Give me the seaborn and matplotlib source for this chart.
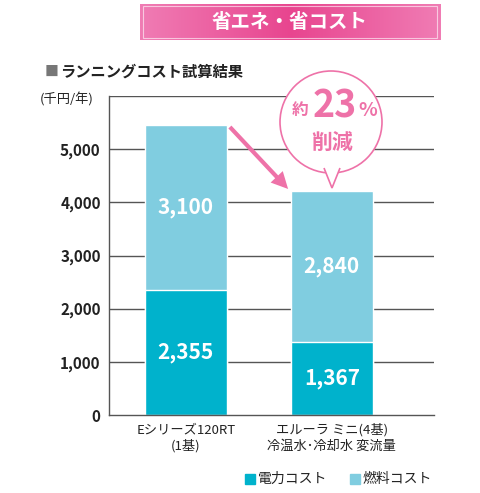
import matplotlib
matplotlib.use("Agg")
import matplotlib.pyplot as plt
import seaborn as sns
import pandas as pd
import numpy as np
from matplotlib.patches import Circle, Polygon, FancyArrowPatch, Rectangle

categories = ["Eシリーズ120RT\n(1基)", "エルーラ ミニ(4基)\n冷温水･冷却水 変流量"]
electric = [2355, 1367]
fuel = [3100, 2840]
yticks = [0, 1000, 2000, 3000, 4000, 5000, 6000]

sns.set_theme(style="white")
plt.rcParams['font.family'] = ['Noto Sans CJK JP', 'DejaVu Sans']

W, H = 480, 493
fig = plt.figure(figsize=(4.8, 4.93), dpi=100)
def fx(x): return x / W
def fy(y): return 1 - y / H

ax = fig.add_axes([fx(109), fy(415), fx(434) - fx(109), fy(96) - fy(415)])
df = pd.DataFrame({"cat": categories, "total": np.add(electric, fuel), "elec": electric})
c_dark, c_light = "#00b2cc", "#80cde0"
sns.barplot(data=df, x="cat", y="total", color=c_light, width=0.56, saturation=1, ax=ax)
sns.barplot(data=df, x="cat", y="elec", color=c_dark, width=0.56, saturation=1, ax=ax)
ax.set_xlim(-0.527, 1.70)
ax.set_ylim(0, 6000)
ax.set_yticks(yticks)
ax.set_yticklabels([f"{v:,}" if v < 6000 else "" for v in yticks], fontsize=11, fontweight="bold", color="#222")
ax.set_xlabel(""); ax.set_ylabel("")
ax.set_xticks([0, 1])
ax.set_xticklabels(categories, fontsize=9.5, color="#222", linespacing=1.3)
ax.tick_params(axis="both", length=0, pad=6)
for y in yticks[1:]:
    ax.axhline(y, color="#555", lw=1, zorder=0)
for s in ["top", "right"]:
    ax.spines[s].set_visible(False)
for s in ["left", "bottom"]:
    ax.spines[s].set_color("#555"); ax.spines[s].set_linewidth(1)
ax.set_axisbelow(True)
for i in range(2):
    ax.text(i, electric[i] / 2, f"{electric[i]:,}", ha="center", va="center", color="white", fontsize=15, fontweight="bold")
    ax.text(i, electric[i] + fuel[i] / 2, f"{fuel[i]:,}", ha="center", va="center", color="white", fontsize=15, fontweight="bold")

# banner
grad = np.linspace(0, 1, 256).reshape(1, -1)
bax = fig.add_axes([fx(140), fy(40), fx(440) - fx(140), fy(4) - fy(40)])
from matplotlib.colors import LinearSegmentedColormap
cm = LinearSegmentedColormap.from_list("p", ["#f07cb4", "#e8458f", "#f07cb4"])
bax.imshow(grad, aspect="auto", cmap=cm, extent=[0, 1, 0, 1])
bax.add_patch(Rectangle((0.01, 0.06), 0.98, 0.88, fill=False, ec="white", lw=0.8, alpha=0.6))
bax.text(0.5, 0.5, "省エネ・省コスト", color="white", fontsize=14, fontweight="bold", ha="center", va="center")
bax.set_axis_off()

fig.text(fx(45), fy(72), "■", color="#777", fontsize=10, va="center")
fig.text(fx(60), fy(72), "ランニングコスト試算結果", color="#222", fontsize=11, fontweight="bold", va="center")
fig.text(fx(40), fy(99), "(千円/年)", color="#222", fontsize=9.5, va="center")

# arrow
pink = "#ee72a8"
fig.patches.append(FancyArrowPatch((fx(228), fy(125)), (fx(290), fy(191)), transform=fig.transFigure,
                                   arrowstyle="simple,head_length=12,head_width=12,tail_width=3", color=pink, lw=0))
# callout
cx, cy, r = 331, 122, 51
aspect = W / H
from matplotlib.patches import Ellipse
fig.patches.append(Ellipse((fx(cx), fy(cy)), 2 * r / W, 2 * r / H, transform=fig.transFigure, fc="white", ec=pink, lw=1.2, zorder=5))
fig.patches.append(Polygon([(fx(324), fy(168)), (fx(332), fy(188)), (fx(340), fy(168))], closed=False,
                           transform=fig.transFigure, fc="white", ec=pink, lw=1.2, zorder=6))
fig.patches.append(Polygon([(fx(325.5), fy(166)), (fx(332), fy(184)), (fx(338.5), fy(166))], closed=True,
                           transform=fig.transFigure, fc="white", ec="none", zorder=7))
fig.text(fx(300), fy(110), "約", color=pink, fontsize=12, fontweight="bold", ha="center", va="center", zorder=8)
fig.text(fx(335), fy(106), "23", color=pink, fontsize=27, fontweight="bold", ha="center", va="center", zorder=8)
fig.text(fx(368), fy(110), "%", color=pink, fontsize=14, fontweight="bold", ha="center", va="center", zorder=8)
fig.text(fx(332), fy(142), "削減", color=pink, fontsize=15, fontweight="bold", ha="center", va="center", zorder=8)

# legend
fig.patches.append(Rectangle((fx(245), fy(484)), 10 / W, 10 / H, transform=fig.transFigure, color=c_dark))
fig.text(fx(258), fy(479), "電力コスト", fontsize=10, color="#222", va="center")
fig.patches.append(Rectangle((fx(350), fy(484)), 10 / W, 10 / H, transform=fig.transFigure, color=c_light))
fig.text(fx(363), fy(479), "燃料コスト", fontsize=10, color="#222", va="center")

fig.savefig("out.png", dpi=100, facecolor="white")
